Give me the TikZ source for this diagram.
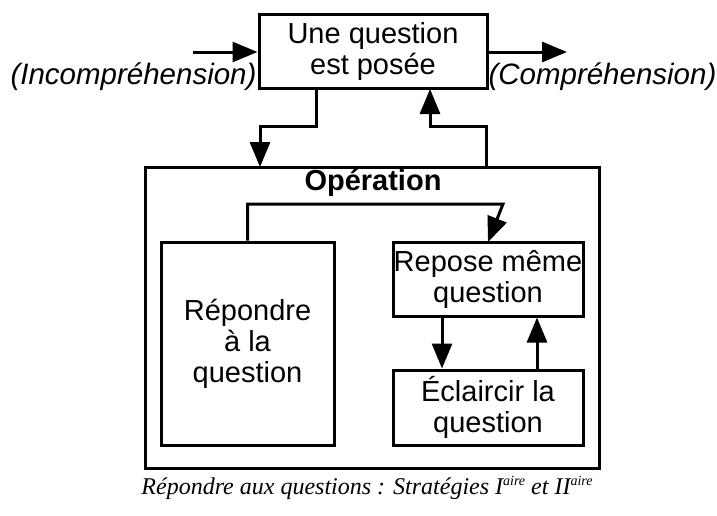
\documentclass[tikz,border=0pt]{standalone}
\usepackage{fontspec}
\setmainfont{Liberation Sans}
\newfontfamily\captionserif{Liberation Serif}
\usetikzlibrary{arrows.meta}

\newcommand{\ordsup}[1]{\raisebox{0.8ex}{\fontsize{14}{14}\selectfont #1}}

\begin{document}
\begin{tikzpicture}[x=1pt, y=-1pt,
  line width=3pt,
  every node/.style={font=\fontsize{29}{31}\selectfont, align=center, inner sep=0pt},
  boxnode/.style={draw, rectangle, line width=3pt},
  flow/.style={-{Triangle[length=25pt, width=20pt]}, line width=3pt}]
  \useasboundingbox (0,0) rectangle (717,515);

  % top process box
  \node[boxnode, minimum width=228pt, minimum height=74pt] (ask) at (373,51) {Une question\\est posée};

  % incoming / outgoing arrows with their labels
  \coordinate (inStart) at (193,52);
  \coordinate (outEnd) at (567,52);
  \draw[flow] (inStart) -- (ask.west |- inStart);
  \draw[flow] (ask.east |- outEnd) -- (outEnd);
  \node[anchor=east, font=\fontsize{29.5}{31}\selectfont\itshape] (incomp) at (258,77) {(Incompréhension)};
  \node[anchor=west, font=\fontsize{29.5}{31}\selectfont\itshape] (comp) at (487,77) {(Compréhension)};

  % operation frame
  \node[boxnode, minimum width=454pt, minimum height=301pt] (op) at (372,317.5) {};
  \node[font=\fontsize{29}{31}\selectfont\bfseries] (optitle) at (373,183) {Opération};

  % inner boxes
  \node[boxnode, minimum width=173pt, minimum height=203pt] (answer) at (247.5,343.5) {Répondre\\à la\\question};
  \node[boxnode, minimum width=190pt, minimum height=74pt] (repeat) at (488,279) {Repose même\\question};
  \node[boxnode, minimum width=190pt, minimum height=75pt] (clarify) at (488,407.5) {Éclaircir la\\question};

  % connectors between top box and frame
  \draw[flow] (ask.south -| 316,0) |- (260,126) -- (260,167);
  \draw[flow] (op.north -| 486,0) |- (430,126) -- (430,89);

  % loop from the answer box over to the repeat box
  \coordinate (loopCorner) at (503,204);
  \draw[flow] (answer.north) |- (loopCorner) -- (488,242);

  % loop between repeat and clarify
  \draw[flow] (repeat.south -| 442,0) -- (clarify.north -| 442,0);
  \draw[flow] (clarify.north -| 537,0) -- (repeat.south -| 537,0);

  % caption
  \node[font=\captionserif\itshape\fontsize{24}{26}\selectfont, anchor=base] (caption) at (367,494)
    {Répondre aux questions : Stratégies I\ordsup{aire}\ et II\ordsup{aire}};
\end{tikzpicture}
\end{document}
